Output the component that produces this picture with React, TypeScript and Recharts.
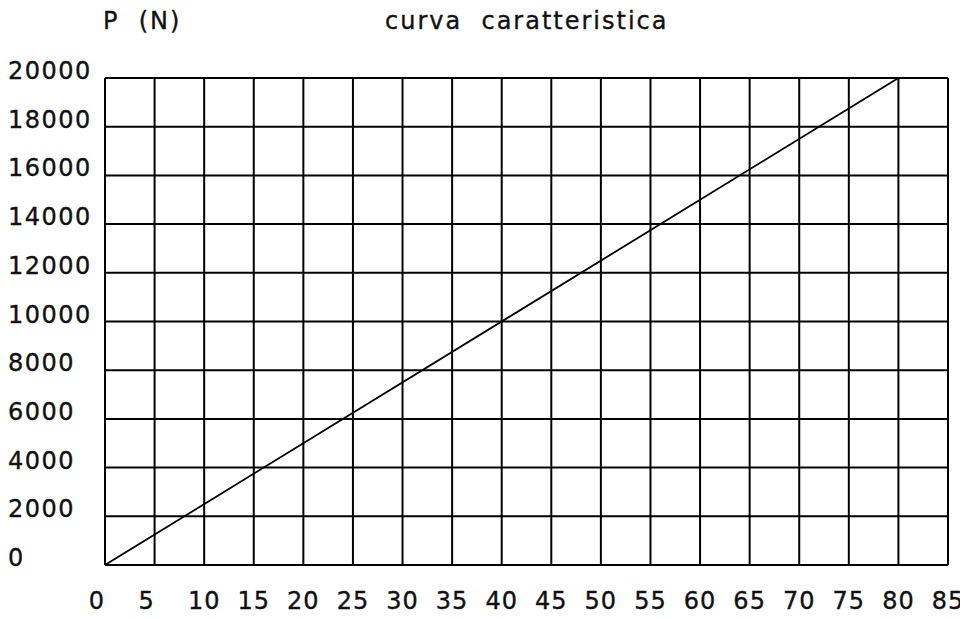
import React from 'react';
import { LineChart, Line, XAxis, YAxis, CartesianGrid } from 'recharts';

const xTicks = [0, 5, 10, 15, 20, 25, 30, 35, 40, 45, 50, 55, 60, 65, 70, 75, 80, 85];
const yTicks = [0, 2000, 4000, 6000, 8000, 10000, 12000, 14000, 16000, 18000, 20000];
const strokeValues = [0, 80];
const forceValues = [0, 20000];
const titleLeft = 'P\u00A0\u00A0(N)';
const titleMain = 'curva\u00A0\u00A0caratteristica';

const data = strokeValues.map((s, i) => ({ s, p: forceValues[i] }));

const FONT = '"DejaVu Sans", sans-serif';
const textStyle = { stroke: '#111', strokeWidth: 0.35 };

const XTick = (props: any) => {
  const { x, y, payload } = props;
  const label = String(payload.value);
  const dx = label.length === 1 ? -8 : 0;
  return (
    <text x={x + dx} y={y + 36} textAnchor="middle" fontFamily={FONT} fontSize={24} letterSpacing={1} fill="#111" style={textStyle}>
      {label}
    </text>
  );
};

const YTick = (props: any) => {
  const { y, payload } = props;
  return (
    <text x={0} y={y + 1} textAnchor="start" fontFamily={FONT} fontSize={24} letterSpacing={1.5} fill="#111" style={textStyle}>
      {String(payload.value)}
    </text>
  );
};

export default function App() {
  return (
    <div style={{ position: 'relative', width: 960, height: 611, background: '#fff' }}>
      <LineChart width={960} height={611} data={data} margin={{ top: 70, right: 20, bottom: 0, left: 0 }}>
        <CartesianGrid stroke="#000" strokeWidth={2} />
        <XAxis
          dataKey="s"
          type="number"
          domain={[0, 85]}
          ticks={xTicks}
          interval={0}
          height={54}
          tickLine={false}
          axisLine={{ stroke: '#000', strokeWidth: 2 }}
          tick={<XTick />}
        />
        <YAxis
          type="number"
          domain={[0, 20000]}
          ticks={yTicks}
          interval={0}
          width={97}
          tickLine={false}
          axisLine={{ stroke: '#000', strokeWidth: 2 }}
          tick={<YTick />}
        />
        <Line dataKey="p" stroke="#000" strokeWidth={1.8} dot={false} isAnimationActive={false} />
      </LineChart>
      <svg width={960} height={40} style={{ position: 'absolute', left: 0, top: 0 }}>
        <text x={95} y={21} fontFamily={FONT} fontSize={24} letterSpacing={2} fill="#111" style={textStyle}>{titleLeft}</text>
        <text x={377} y={21} fontFamily={FONT} fontSize={24} letterSpacing={2} fill="#111" style={textStyle}>{titleMain}</text>
      </svg>
    </div>
  );
}
